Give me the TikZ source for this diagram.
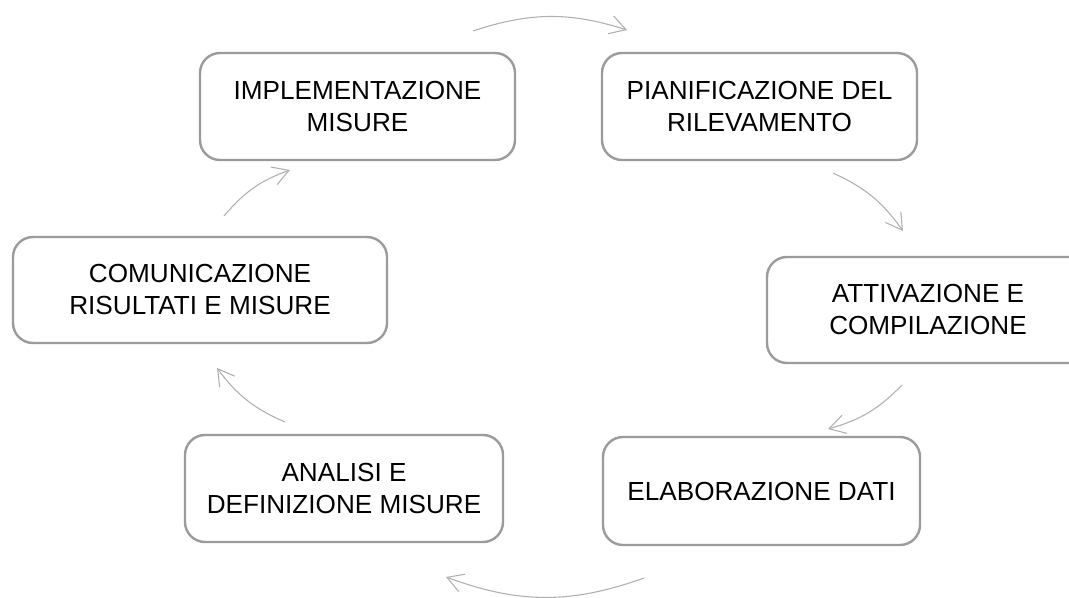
\documentclass[tikz,border=0pt]{standalone}
\usepackage{fontspec}
\setmainfont{Liberation Sans}
\usetikzlibrary{arrows.meta}
\definecolor{boxgray}{RGB}{155,155,155}
\definecolor{arrgray}{RGB}{175,175,175}
\begin{document}
\begin{tikzpicture}[x=0.75pt,y=-0.75pt,
  stepbox/.style={draw=boxgray, line width=1.8pt, rounded corners=15pt, align=center,
    font=\fontsize{19.6}{24}\selectfont, inner sep=0pt, fill=white},
  cyc/.style={draw=arrgray, line width=0.8pt, -{Straight Barb[length=12pt,width=14pt]}}
]
\useasboundingbox (0,0) rectangle (1069,598);
\clip (0,0) rectangle (1069,598);

\node[stepbox, minimum width=236.25pt, minimum height=80.25pt] (impl) at (357.5,106.5) {IMPLEMENTAZIONE\\MISURE};
\node[stepbox, minimum width=236.25pt, minimum height=80.25pt] (pian) at (759.5,106.5) {PIANIFICAZIONE DEL\\RILEVAMENTO};
\node[stepbox, minimum width=241.5pt, minimum height=79.5pt] (attiv) at (928,310) {ATTIVAZIONE E\\COMPILAZIONE};
\node[stepbox, minimum width=237.75pt, minimum height=81pt] (elab) at (761.5,491) {ELABORAZIONE DATI};
\node[stepbox, minimum width=238.5pt, minimum height=80.25pt] (anal) at (344,488.5) {ANALISI E\\DEFINIZIONE MISURE};
\node[stepbox, minimum width=280.5pt, minimum height=79.5pt] (comm) at (200,290) {COMUNICAZIONE\\RISULTATI E MISURE};

\coordinate (a1s) at (473,31);  \coordinate (a1e) at (627,30);
\coordinate (a2s) at (833,173); \coordinate (a2e) at (903,231);
\coordinate (a3s) at (902,385); \coordinate (a3e) at (828,429);
\coordinate (a4s) at (644,578); \coordinate (a4e) at (446,577);
\coordinate (a5s) at (285,422); \coordinate (a5e) at (217,368);
\coordinate (a6s) at (224,216); \coordinate (a6e) at (290,170);

\draw[cyc] (a1s) to[bend left=18] (a1e);
\draw[cyc] (a2s) to[bend left=15] (a2e);
\draw[cyc] (a3s) to[bend left=15] (a3e);
\draw[cyc] (a4s) to[bend left=20] (a4e);
\draw[cyc] (a5s) to[bend left=15] (a5e);
\draw[cyc] (a6s) to[bend left=15] (a6e);
\end{tikzpicture}
\end{document}
